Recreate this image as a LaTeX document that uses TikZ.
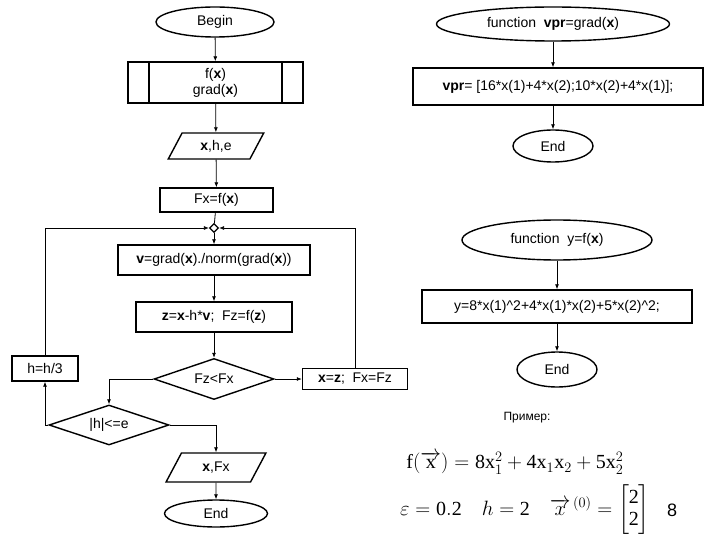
\documentclass[tikz,border=0pt]{standalone}
\usepackage{amsmath}
\usepackage{fontspec}
\setmainfont{Liberation Serif}
\newfontfamily\arl{Liberation Sans}
\usetikzlibrary{shapes.geometric,shapes.multipart,arrows.meta}
\begin{document}
\begin{tikzpicture}[x=1pt,y=-1pt,
  every node/.style={font=\arl\fontsize{14}{16}\selectfont,inner sep=0pt},
  sh/.style={draw,line width=1.4pt},
  term/.style={sh,ellipse},
  proc/.style={sh,rectangle},
  io/.style={sh,trapezium,trapezium left angle=62,trapezium right angle=118},
  dec/.style={sh,diamond,aspect=2.9},
  ar/.style={-{Latex[length=5pt,width=4pt]},line width=0.8pt},
  ln/.style={line width=0.8pt},
  mth/.style={font=\fontsize{20}{22}\selectfont}]
\useasboundingbox (0,0) rectangle (720,540);
% left main
\node[term,minimum width=118,minimum height=30] (b) at (215,22) {Begin};
\node[proc,minimum width=175,minimum height=41,align=center] (sub) at (215.5,82.5) {f(\textbf{x})\\grad(\textbf{x})};
\draw[line width=1.4pt] (149,62) -- (149,103) (282,62) -- (282,103);
\node[io,minimum width=80,minimum height=26] (in) at (216,146) {\textbf{x},h,e};
\node[proc,minimum width=113,minimum height=24] (fx) at (216.5,200) {Fx=f(\textbf{x})};
\node[draw,line width=1.2pt,diamond,fill=white,minimum size=9] (j) at (214,228) {};
\node[proc,minimum width=192,minimum height=30] (v) at (214,260) {\textbf{v}=grad(\textbf{x})./norm(grad(\textbf{x}))};
\node[proc,minimum width=156,minimum height=30] (z) at (214,317) {\textbf{z}=\textbf{x}-h*\textbf{v};\ \ Fz=f(\textbf{z})};
\node[dec,minimum width=120,minimum height=41] (c1) at (214,379) {Fz<Fx};
\node[proc,minimum width=66,minimum height=25] (h3) at (45,368.5) {h=h/3};
\node[proc,minimum width=105,minimum height=21] (xz) at (355,379) {\textbf{x}=\textbf{z};\ \ Fx=Fz};
\node[dec,minimum width=120,minimum height=40] (c2) at (109,425) {|h|<=e};
\node[io,minimum width=100,minimum height=29] (out) at (216,467.5) {\textbf{x},Fx};
\node[term,minimum width=103,minimum height=27] (e1) at (216,513.5) {End};
\draw[ar] (b) -- (sub);
\draw[ar] (sub) -- (in);
\draw[ar] (in) -- (fx);
\draw[ln] (fx) -- (j);
\draw[ar] (j) -- (v);
\draw[ar] (v) -- (z);
\draw[ar] (z) -- (c1.north);
\draw[ar] (c1.east) -- (xz.west);
\draw[ar] (xz.north) |- (j.east);
\draw[ar] (c1.west) -| (c2.north);
\draw[ar] (c2.west) -| (h3.south);
\draw[ar] (h3.north) |- (j.west);
\draw[ar] (c2.east) -| (out.north);
\draw[ar] (out) -- (e1);
% right top
\node[term,minimum width=233,minimum height=34] (f1) at (553,24) {function\ \ \textbf{vpr}=grad(\textbf{x})};
\node[proc,minimum width=290,minimum height=37] (p1) at (558,86.5) {\textbf{vpr}= [16*x(1)+4*x(2);10*x(2)+4*x(1)];};
\node[term,minimum width=80,minimum height=32] (e2) at (553,146) {End};
\draw[ar] (f1) -- (p1.north -| f1);
\draw[ar] (p1.south -| e2) -- (e2);
% right middle
\node[term,minimum width=190,minimum height=40] (f2) at (557,240) {function\ \ y=f(\textbf{x})};
\node[proc,minimum width=270,minimum height=33] (p2) at (557,306.5) {y=8*x(1)\^{}2+4*x(1)*x(2)+5*x(2)\^{}2;};
\node[term,minimum width=80,minimum height=35] (e3) at (557,369.5) {End};
\draw[ar] (f2) -- (p2);
\draw[ar] (p2) -- (e3);
% example
\node[font=\arl\fontsize{12}{14}\selectfont] (ex) at (527,418) {Пример:};
\node[mth] (m1) at (515,463) {$\mathrm{f}(\overrightarrow{\mathrm{x}})=\mathrm{8x}_1^2+\mathrm{4x}_1\mathrm{x}_2+\mathrm{5x}_2^2$};
\node[mth,anchor=west] (m2) at (400,510) {$\varepsilon=\mathrm{0.2}\quad h=\mathrm{2}\quad \overrightarrow{x}^{\,(0)}=\begin{bmatrix}\mathrm{2}\\\mathrm{2}\end{bmatrix}$};
\node[font=\arl\fontsize{18}{20}\selectfont] (pg) at (672,510) {8};
\end{tikzpicture}
\end{document}
